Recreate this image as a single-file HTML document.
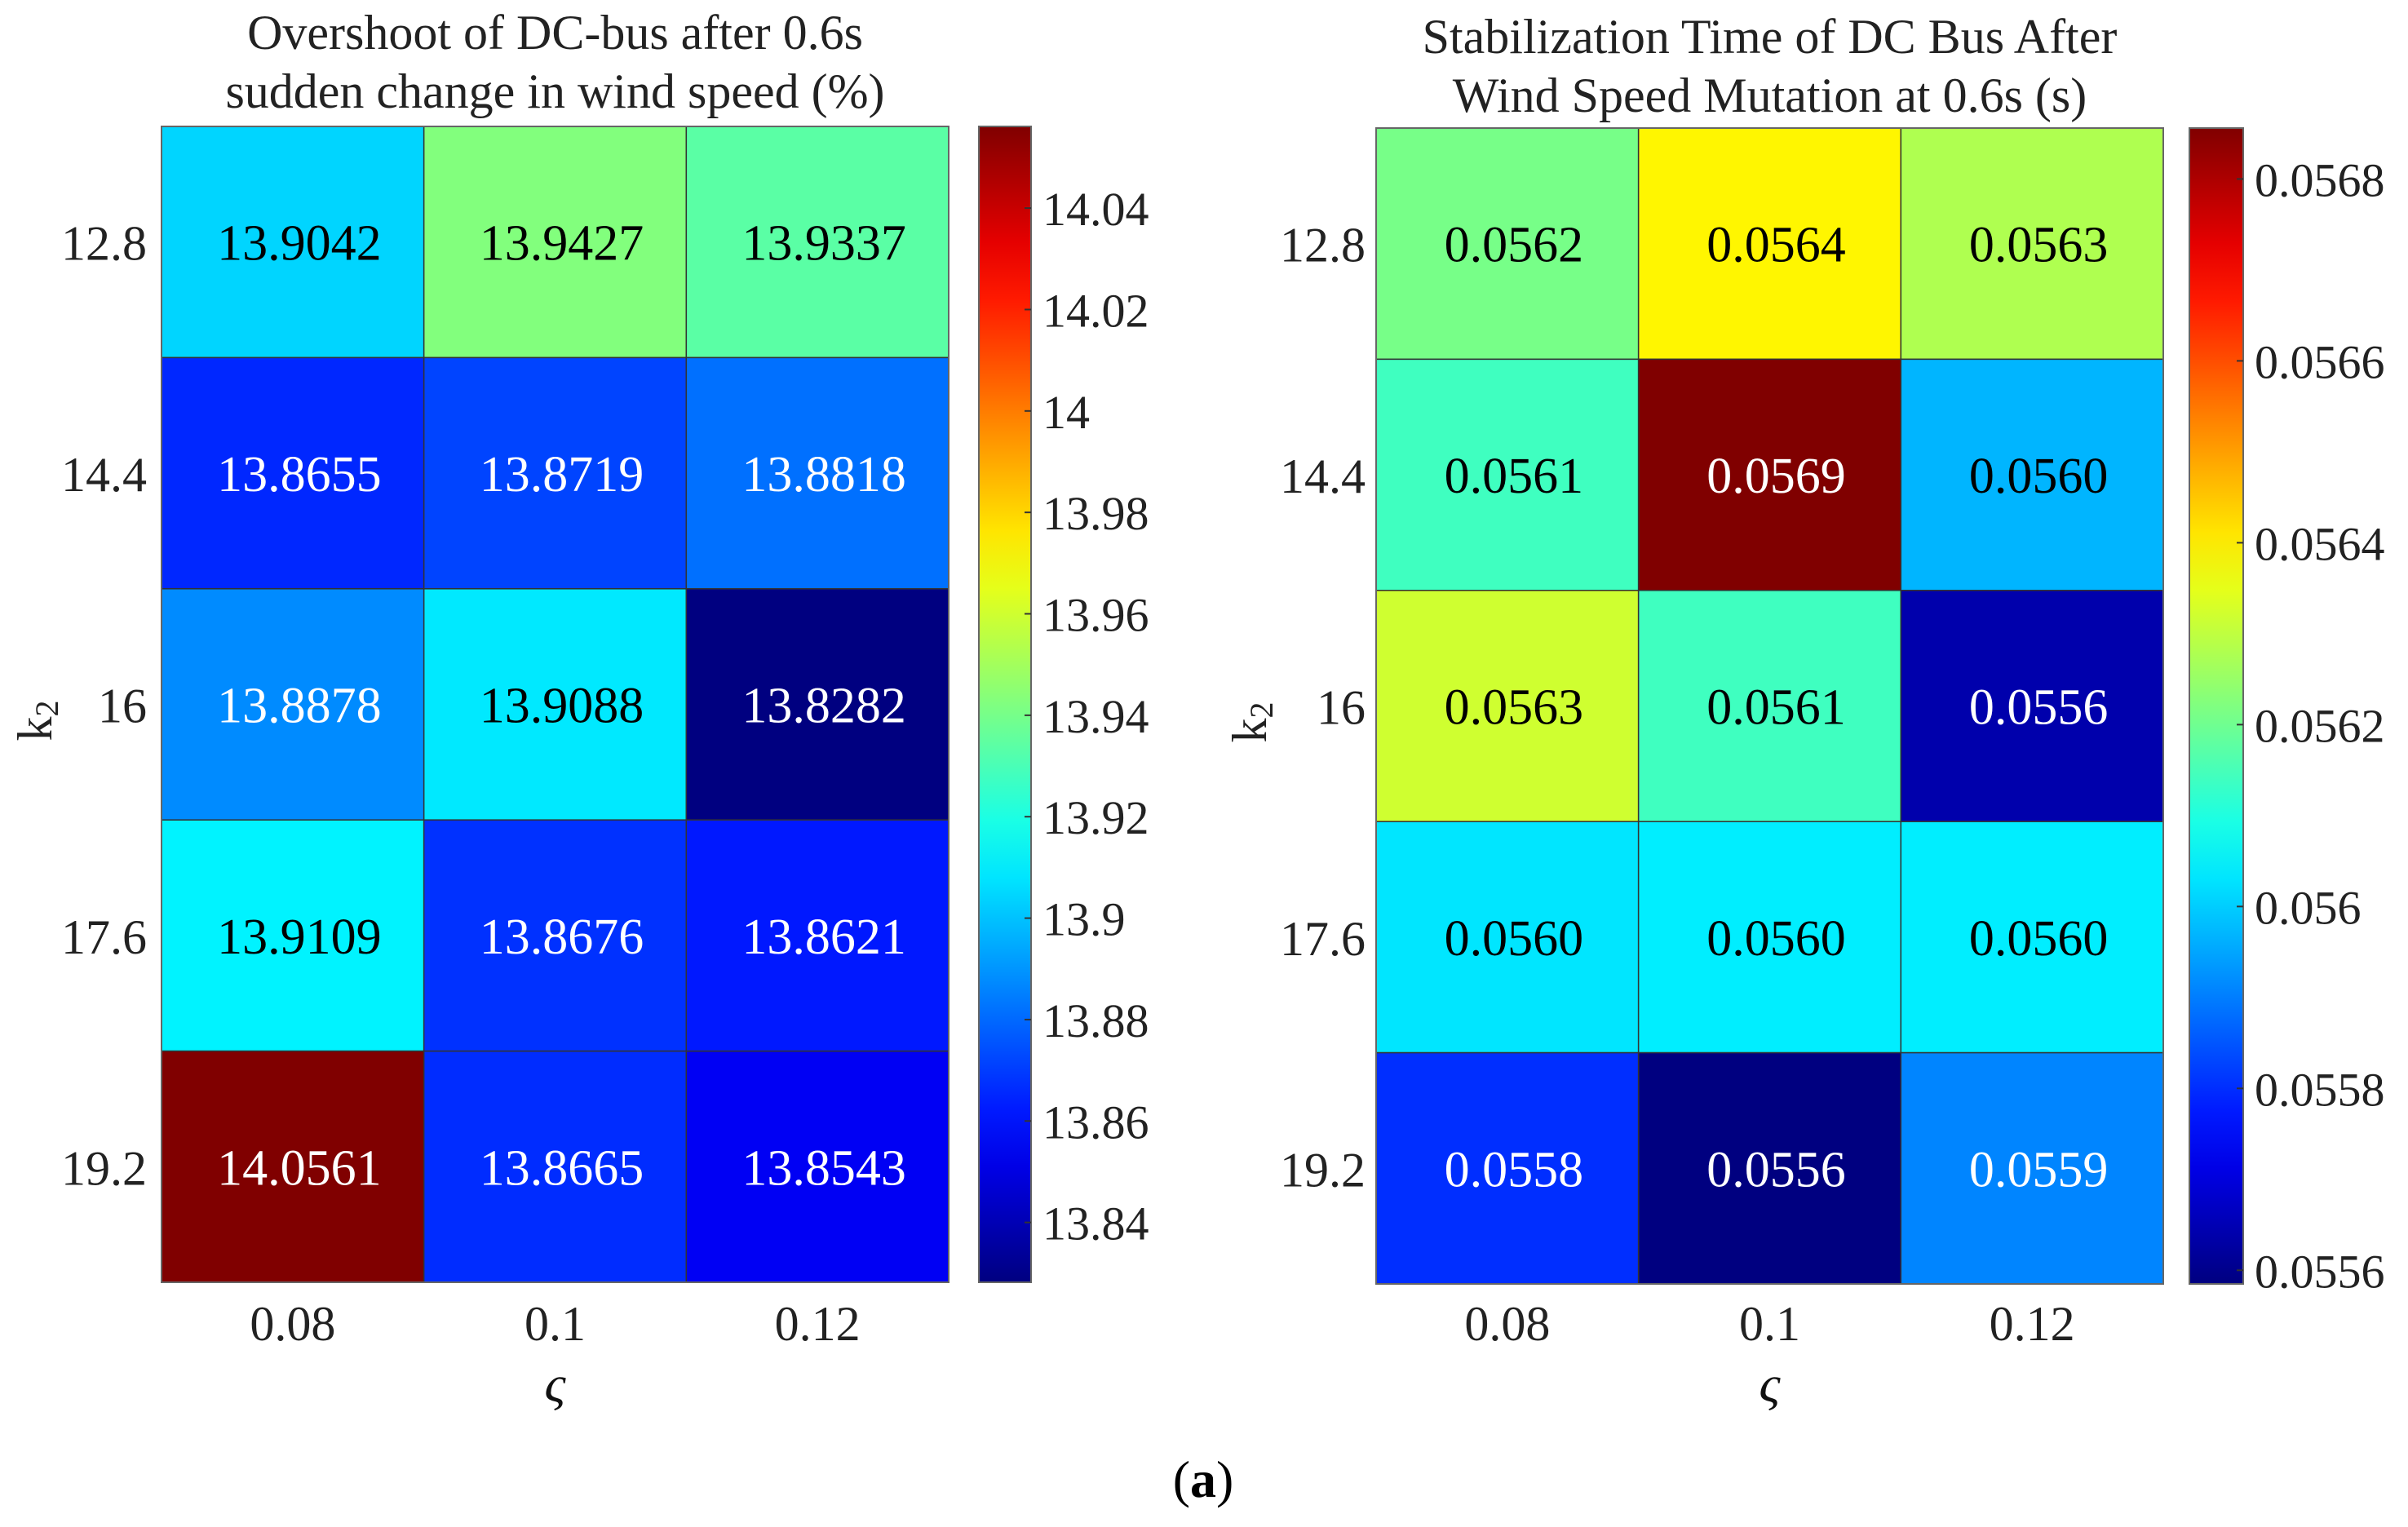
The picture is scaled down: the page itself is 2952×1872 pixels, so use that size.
<!DOCTYPE html>
<html><head><meta charset="utf-8"><style>
html,body{margin:0;padding:0;background:#fff;}
svg{display:block;font-family:"Liberation Serif",serif;}
</style></head><body>
<svg id="fig" width="2952" height="1872" viewBox="0 0 2952 1872" xmlns="http://www.w3.org/2000/svg">
<text x="1475" y="1835" font-size="64" text-anchor="middle">(<tspan font-weight="bold">a</tspan>)</text>
</svg>
<script>
const xCategories = ["0.08", "0.1", "0.12"];
const yCategories = ["12.8", "14.4", "16", "17.6", "19.2"];
const overshootValues = [
  [13.9042, 13.9427, 13.9337],
  [13.8655, 13.8719, 13.8818],
  [13.8878, 13.9088, 13.8282],
  [13.9109, 13.8676, 13.8621],
  [14.0561, 13.8665, 13.8543]
];
const overshootTicks = [13.84, 13.86, 13.88, 13.9, 13.92, 13.94, 13.96, 13.98, 14, 14.02, 14.04];
const stabValues = [
  [0.05621, 0.05639, 0.05628],
  [0.05614, 0.056856, 0.05597],
  [0.05632, 0.05614, 0.05564],
  [0.05603, 0.05604, 0.05604],
  [0.055801, 0.055585, 0.05591]
];
const stabTicks = [0.0556, 0.0558, 0.056, 0.0562, 0.0564, 0.0566, 0.0568];

const NS = "http://www.w3.org/2000/svg";
const svg = document.getElementById('fig');
function mk(tag, attrs, parent){
  const e = document.createElementNS(NS, tag);
  for (const k in attrs) e.setAttribute(k, attrs[k]);
  (parent||svg).appendChild(e);
  return e;
}
function jet(f){
  f = Math.max(0, Math.min(1, f));
  const c = t => Math.round(255*Math.max(0, Math.min(1, 1.5 - Math.abs(4*f - t))));
  return `rgb(${c(3)},${c(2)},${c(1)})`;
}
function panel(cfg){
  const {x0, x1, y0, y1, cbx0, cbx1, values, ticks, titles, titleY, digits, name, yLabX, tickFmt} = cfg;
  const g = mk('g', {});
  
  
  const flat = values.flat();
  const vmin = Math.min(...flat), vmax = Math.max(...flat);
  const nC = xCategories.length, nR = yCategories.length;
  const cw = (x1 - x0)/nC, ch = (y1 - y0)/nR;
  const xs = i => x0 + i*cw;
  const ys = j => y0 + j*ch;
  const cbY = v => y1 - (v - vmin)/(vmax - vmin)*(y1 - y0);
  values.forEach((row, j) => row.forEach((v, i) => {
    const f = (v - vmin)/(vmax - vmin);
    const r = mk('rect', {x: xs(i), y: ys(j), width: cw, height: ch, fill: jet(f), stroke: '#333', 'stroke-width': 1.5}, g);
    
    
    const t = mk('text', {x: xs(i)+cw/2+8, y: ys(j)+ch/2+22, 'font-size': 62, 'text-anchor': 'middle', fill: (f < 0.3 || f > 0.8) ? '#fff' : '#000'}, g);
    t.textContent = v.toFixed(digits);
    
    
  }));
  mk('rect', {x: x0, y: y0, width: x1-x0, height: y1-y0, fill: 'none', stroke: '#666', 'stroke-width': 2}, g);
  yCategories.forEach((lab, j) => {
    const t = mk('text', {x: yLabX, y: ys(j)+ch/2+22, 'font-size': 60, 'text-anchor': 'end', fill: '#222'}, g);
    t.textContent = lab;
    
    
  });
  xCategories.forEach((lab, i) => {
    const t = mk('text', {x: xs(i)+cw/2, y: 1643, 'font-size': 60, 'text-anchor': 'middle', fill: '#222'}, g);
    t.textContent = lab;
    
    
  });
  const xl = mk('text', {x: (x0+x1)/2, y: 1718, 'font-size': 64, 'text-anchor': 'middle', 'font-style': 'italic', fill: '#111'}, g);
  xl.textContent = 'ς';
  
  
  const yl = mk('text', {x: 0, y: 0, 'font-size': 60, 'text-anchor': 'middle', fill: '#222', transform: `translate(${x0-135},${(y0+y1)/2+20}) rotate(-90)`}, g);
  yl.innerHTML = 'k<tspan font-size="40" dy="8">2</tspan>';
  
  
  titles.forEach((s, k) => {
    const t = mk('text', {x: (x0+x1)/2, y: titleY + k*72, 'font-size': 60, 'text-anchor': 'middle', fill: '#222'}, g);
    t.textContent = s;
    
    
  });
  const defs = mk('defs', {}, g);
  const gid = name + '-grad';
  const lg = mk('linearGradient', {id: gid, x1: 0, y1: 1, x2: 0, y2: 0}, defs);
  for (let k = 0; k <= 20; k++) mk('stop', {offset: k/20, 'stop-color': jet(k/20)}, lg);
  const cb = mk('rect', {x: cbx0, y: y0, width: cbx1-cbx0, height: y1-y0, fill: `url(#${gid})`, stroke: '#666', 'stroke-width': 2}, g);
  
  
  ticks.forEach(v => {
    const y = cbY(v);
    mk('line', {x1: cbx1-8, x2: cbx1, y1: y, y2: y, stroke: '#333', 'stroke-width': 2}, g);
    const t = mk('text', {x: cbx1+14, y: y+21, 'font-size': 58, fill: '#222'}, g);
    t.textContent = tickFmt(v);
    
    
  });
}
panel({x0: 198, x1: 1163, y0: 155, y1: 1572, cbx0: 1200, cbx1: 1264,
  values: overshootValues, ticks: overshootTicks, digits: 4, name: 'overshoot-heatmap',
  titles: ['Overshoot of DC-bus after 0.6s', 'sudden change in wind speed (%)'], titleY: 60,
  yLabX: 180, tickFmt: v => String(+v.toFixed(2))});
panel({x0: 1687, x1: 2652, y0: 157, y1: 1574, cbx0: 2684, cbx1: 2750,
  values: stabValues, ticks: stabTicks, digits: 4, name: 'stabilization-heatmap',
  titles: ['Stabilization Time of DC Bus After', 'Wind Speed Mutation at 0.6s (s)'], titleY: 65,
  yLabX: 1674, tickFmt: v => String(+v.toFixed(4))});
</script>
</body></html>
